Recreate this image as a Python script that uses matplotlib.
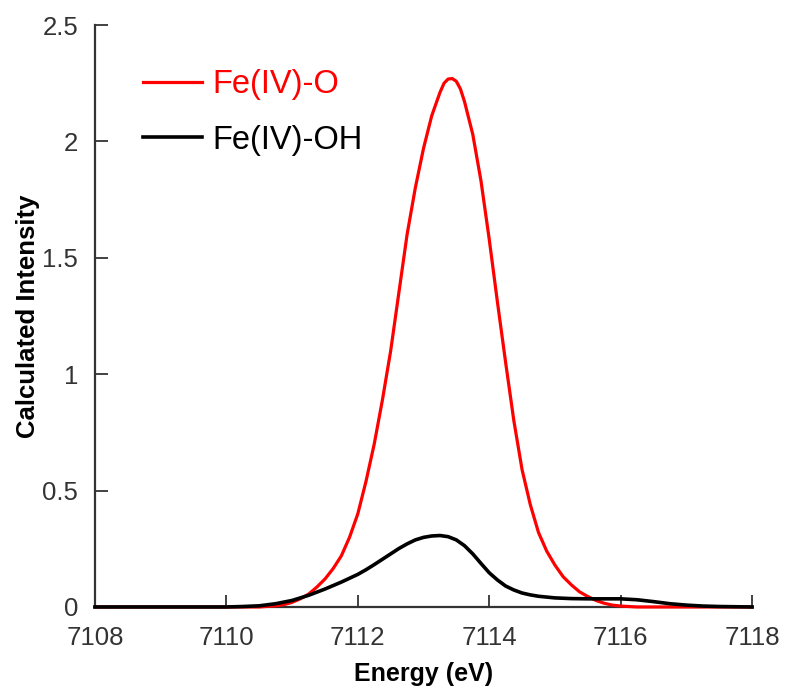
import matplotlib
matplotlib.use("Agg")
import matplotlib.pyplot as plt

plt.rcParams['font.family'] = ['Liberation Sans', 'DejaVu Sans']

# Calculated pre-edge intensity, Fe(IV)-O
energy_o = [7108.0, 7109.0, 7110.0, 7110.5, 7110.75, 7110.875, 7111.0, 7111.125,
            7111.25, 7111.375, 7111.5, 7111.625, 7111.75, 7111.875, 7112.0,
            7112.125, 7112.25, 7112.375, 7112.5, 7112.625, 7112.75, 7112.875,
            7113.0, 7113.125, 7113.25, 7113.3125, 7113.375, 7113.4375, 7113.5,
            7113.5625, 7113.625, 7113.75, 7113.875, 7114.0, 7114.125, 7114.25,
            7114.375, 7114.5, 7114.625, 7114.75, 7114.875, 7115.0, 7115.125,
            7115.25, 7115.375, 7115.5, 7115.625, 7115.75, 7115.875, 7116.0,
            7116.25, 7117.0, 7118.0]
fe_iv_o = [0.0, 0.0, 0.0, 0.0, 0.005, 0.01, 0.02, 0.035,
           0.055, 0.085, 0.12, 0.165, 0.22, 0.30, 0.40,
           0.54, 0.70, 0.89, 1.10, 1.35, 1.60, 1.80,
           1.97, 2.11, 2.21, 2.25, 2.268, 2.27, 2.258,
           2.225, 2.17, 2.03, 1.83, 1.58, 1.31, 1.05,
           0.80, 0.59, 0.44, 0.32, 0.24, 0.18, 0.13,
           0.095, 0.065, 0.045, 0.028, 0.016, 0.008, 0.004,
           0.0, 0.0, 0.0]

# Calculated pre-edge intensity, Fe(IV)-OH
energy_oh = [7108.0, 7109.0, 7110.0, 7110.25, 7110.5, 7110.75, 7111.0, 7111.25,
             7111.5, 7111.75, 7112.0, 7112.125, 7112.25, 7112.375, 7112.5,
             7112.625, 7112.75, 7112.875, 7113.0, 7113.125, 7113.25, 7113.375,
             7113.5, 7113.625, 7113.75, 7113.875, 7114.0, 7114.125, 7114.25,
             7114.375, 7114.5, 7114.625, 7114.75, 7115.0, 7115.25, 7115.5,
             7115.75, 7116.0, 7116.25, 7116.5, 7116.75, 7117.0, 7117.25,
             7117.5, 7118.0]
fe_iv_oh = [0.0, 0.0, 0.0, 0.002, 0.005, 0.014, 0.028, 0.05,
            0.077, 0.107, 0.14, 0.16, 0.182, 0.205, 0.228,
            0.251, 0.271, 0.288, 0.299, 0.305, 0.307, 0.302,
            0.288, 0.263, 0.228, 0.187, 0.147, 0.116, 0.09,
            0.073, 0.06, 0.052, 0.046, 0.039, 0.036, 0.035,
            0.035, 0.035, 0.031, 0.023, 0.014, 0.008, 0.004,
            0.002, 0.0]

series_labels = ["Fe(IV)-O", "Fe(IV)-OH"]
x_ticks = [7108, 7110, 7112, 7114, 7116, 7118]
y_ticks = [0, 0.5, 1, 1.5, 2, 2.5]
y_tick_labels = ["0", "0.5", "1", "1.5", "2", "2.5"]

fig = plt.figure(figsize=(7.85, 6.91), dpi=100)
ax = fig.add_axes([0.121, 0.1216, 0.837, 0.8422])

ax.plot(energy_o, fe_iv_o, color="#ff0000", lw=2.3, label=series_labels[0],
        zorder=3, clip_on=False, solid_joinstyle="round")
ax.plot(energy_oh, fe_iv_oh, color="#000000", lw=2.6, label=series_labels[1],
        zorder=4, clip_on=False, solid_joinstyle="round")

ax.set_xlim(7108, 7118)
ax.set_ylim(0, 2.5)
ax.set_xticks(x_ticks)
ax.set_yticks(y_ticks)
ax.set_yticklabels(y_tick_labels)

for side in ("top", "right"):
    ax.spines[side].set_visible(False)
for side in ("left", "bottom"):
    ax.spines[side].set_color("#333333")
    ax.spines[side].set_linewidth(1.6)

ax.tick_params(direction="in", length=9, width=1.3, color="#333333",
               labelsize=18.5, labelcolor="#333333")
ax.tick_params(axis="x", pad=14)
ax.tick_params(axis="y", pad=12)

ax.set_xlabel("Energy (eV)", fontsize=18, fontweight="bold", labelpad=8)
ax.set_ylabel("Calculated Intensity", fontsize=18.5, fontweight="bold", labelpad=2)

leg = ax.legend(loc="upper left", bbox_to_anchor=(0.049, 0.952), frameon=False,
                fontsize=23.5, handlelength=1.8, handletextpad=0.3,
                labelspacing=0.75, borderpad=0, labelcolor="linecolor")

fig.savefig("out.png", dpi=100)
